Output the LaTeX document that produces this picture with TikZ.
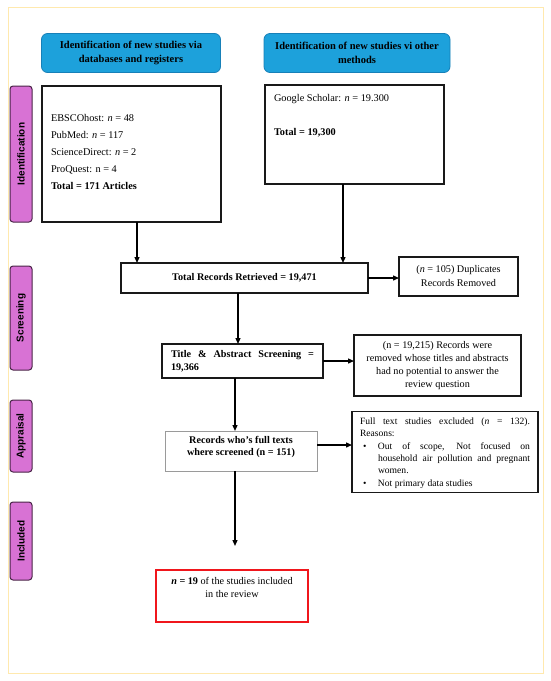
\documentclass[tikz,border=0pt]{standalone}
\usepackage{fontspec}
\setmainfont{Liberation Serif}
\newfontfamily\tabfont{Liberation Sans}
\usetikzlibrary{arrows.meta}
\definecolor{hdrfill}{HTML}{1DA1DB}
\definecolor{hdrdraw}{HTML}{1780B8}
\definecolor{tabfill}{HTML}{D872D4}
\definecolor{tabdraw}{HTML}{4A2548}
\definecolor{framecol}{HTML}{FFE9AE}
\definecolor{recgray}{HTML}{9A9A9A}
\definecolor{finalred}{HTML}{F0161C}
\begin{document}
\begin{tikzpicture}[x=1pt,y=-1pt,
  every node/.style={inner sep=0pt, outer sep=0pt},
  hdr/.style={draw=hdrdraw, fill=hdrfill, line width=0.8pt, rounded corners=6pt, align=center, font=\fontsize{10.5}{13.5}\selectfont\bfseries},
  tabbox/.style={draw=tabdraw, fill=tabfill, line width=1pt, rounded corners=3pt, rotate=90, font=\tabfont\fontsize{10}{11}\selectfont\bfseries, minimum height=22pt},
  rbox/.style={draw=black!90, line width=1.4pt},
  arr/.style={line width=1.3pt, -{Triangle[length=6pt,width=5pt]}},
]
\useasboundingbox (0,0) rectangle (550,681);
\fill[white] (0,0) rectangle (550,681);
\draw[framecol, line width=1pt] (8,7) rectangle (543,673);

% headers
\node[hdr, minimum width=179pt, minimum height=39pt] (h1) at (131,53) {Identification of new studies via\\databases and registers};
\node[hdr, minimum width=186pt, minimum height=39pt] (h2) at (357,53) {Identification of new studies vi other\\methods};

% side tabs
\node[tabbox, minimum width=136pt] (t1) at (21,154) {Identification};
\node[tabbox, minimum width=104pt] (t2) at (21,318) {Screening};
\node[tabbox, minimum width=72pt] (t3) at (21,436) {Appraisal};
\node[tabbox, minimum width=78pt] (t4) at (21,541) {Included};

% left source box
\node[rbox, minimum width=179pt, minimum height=136pt] (lb) at (131.5,154) {};
\node[anchor=west, align=left, font=\fontsize{10.3}{17}\selectfont] (lbt) at (51,152) {EBSCOhost: \textit{n} = 48\\PubMed: \textit{n} = 117\\ScienceDirect: \textit{n} = 2\\ProQuest: n = 4\\\textbf{Total = 171 Articles}};

% right source box
\node[rbox, minimum width=179pt, minimum height=99pt] (rb) at (354.5,134.5) {};
\node[anchor=west, align=left, font=\fontsize{10.3}{17}\selectfont] (rbt) at (274,116) {Google Scholar: \textit{n} = 19.300\\[17pt]\textbf{Total = 19,300}};

% total
\node[rbox, minimum width=247pt, minimum height=30pt, font=\fontsize{10.2}{12}\selectfont\bfseries] (tot) at (244.5,278) {Total Records Retrieved = 19,471};
\node[rbox, minimum width=119pt, minimum height=39pt, align=center, font=\fontsize{10.2}{14}\selectfont] (dup) at (458.5,276.5) {(\textit{n} = 105) Duplicates\\Records Removed};

% title & abstract
\node[rbox, minimum width=161pt, minimum height=34pt, align=left, font=\fontsize{10.2}{12.8}\selectfont\bfseries] (tas) at (242.5,361) {\makebox[143pt][s]{Title \& Abstract Screening =}\\19,366};
\node[rbox, minimum width=167pt, minimum height=61pt, align=center, font=\fontsize{10.2}{12.8}\selectfont] (rem) at (437.5,365.5) {(n = 19,215) Records were\\removed whose titles and abstracts\\had no potential to answer the\\review question};

% records full text
\node[draw=recgray, line width=0.8pt, minimum width=152pt, minimum height=40pt] (rec) at (241,451) {};
\node[anchor=north, align=center, font=\fontsize{10.2}{12.8}\selectfont\bfseries] (rect) at (241,436) {Records who’s full texts\\where screened (n = 151)};
\node[rbox, minimum width=186pt, minimum height=81pt] (ft) at (445,452) {};
\node[anchor=north west, align=justify, text width=170pt, font=\fontsize{9.6}{11.8}\selectfont] (ftt) at (360,418) {\makebox[170pt][s]{Full text studies excluded (\textit{n} = 132).}\\Reasons:\\[1.5pt]\makebox[18pt][l]{\hspace{3pt}\textbullet}\makebox[152pt][s]{Out of scope, Not focused on}\\\hspace*{18pt}\makebox[152pt][s]{household air pollution and pregnant}\\\hspace*{18pt}women.\\[1pt]\makebox[18pt][l]{\hspace{3pt}\textbullet}Not primary data studies};

% final
\node[draw=finalred, line width=1.5pt, minimum width=152pt, minimum height=52pt] (fin) at (232,596) {};
\node[anchor=north, align=center, font=\fontsize{10.2}{13.5}\selectfont] (fint) at (232,577) {\textbf{\textit{n} = 19} of the studies included\\in the review};
\coordinate (fend) at (235,546);

% connectors
\draw[arr] ([xshift=5.5pt]lb.south) -- ([xshift=5.5pt]lb.south |- tot.north);
\draw[arr] ([xshift=-11.5pt]rb.south) -- ([xshift=-11.5pt]rb.south |- tot.north);
\draw[arr] (tot.east) -- (tot.east -| dup.west);
\draw[arr] ([xshift=-6.5pt]tot.south) -- ([xshift=-6.5pt]tot.south |- tas.north);
\draw[arr] (tas.east) -- (tas.east -| rem.west);
\draw[arr] ([xshift=-7.5pt]tas.south) -- ([xshift=-7.5pt]tas.south |- rec.north);
\draw[arr] ([yshift=6pt]rec.east) -- ([yshift=6pt]rec.east -| ft.west);
\draw[arr] ([xshift=-6pt]rec.south) -- (fend);
\end{tikzpicture}
\end{document}
